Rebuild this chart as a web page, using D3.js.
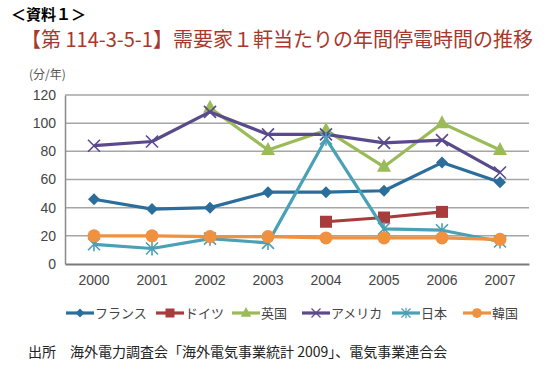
<!DOCTYPE html>
<html>
<head>
<meta charset="utf-8">
<script src="https://cdn.jsdelivr.net/npm/d3@7"></script>
<style>
  body { margin: 0; background: #fff; }
  svg { font-family: "Noto Sans CJK JP", "Noto Sans", sans-serif; }
</style>
</head>
<body>
<div id="chart"></div>
<script>
const years = ["2000", "2001", "2002", "2003", "2004", "2005", "2006", "2007"];
const yTicks = [0, 20, 40, 60, 80, 100, 120];
const france  = [46, 39, 40, 51, 51, 52, 72, 58];
const germany = [null, null, null, null, 30, 33, 37, null];
const uk      = [null, null, 111, 81, 95, 69, 100, 81];
const usa     = [84, 87, 108, 92, 92, 86, 88, 65];
const japan   = [14, 11, 18, 15, 89, 25, 24, 16];
const korea   = [20, 20, 19.5, 19.5, 18.5, 18.5, 18.5, 17.5];
const names = ["フランス", "ドイツ", "英国", "アメリカ", "日本", "韓国"];

const series = [
  { name: names[0], values: france,  color: "#2b6e9b", marker: "diamond" },
  { name: names[1], values: germany, color: "#a83c3c", marker: "square" },
  { name: names[2], values: uk,      color: "#9bbb59", marker: "triangle" },
  { name: names[3], values: usa,     color: "#5a4a8c", marker: "x" },
  { name: names[4], values: japan,   color: "#4aa0b5", marker: "star" },
  { name: names[5], values: korea,   color: "#f0913f", marker: "circle" }
];

const W = 559, H = 371;
const svg = d3.select("#chart").append("svg")
  .attr("width", W).attr("height", H);

// titles
svg.append("text").attr("x", 11).attr("y", 20)
  .style("font-size", "15px").style("font-weight", "bold").style("fill", "#000")
  .text("＜資料１＞");

svg.append("text").attr("x", 21).attr("y", 47)
  .style("font-size", "20px").style("fill", "#a8382c")
  .text("【第 114-3-5-1】需要家１軒当たりの年間停電時間の推移");

svg.append("text").attr("x", 29).attr("y", 79)
  .style("font-size", "12px").style("fill", "#555")
  .text("(分/年)");

const x = d3.scaleBand().domain(years).range([65, 529]);
const y = d3.scaleLinear().domain([0, 120]).range([264, 95]);

// grid
svg.append("g").selectAll("line")
  .data(yTicks.filter(d => d > 0))
  .join("line")
  .attr("x1", 65).attr("x2", 529)
  .attr("y1", d => y(d)).attr("y2", d => y(d))
  .attr("stroke", "#a6a6a6").attr("stroke-width", 1.5);

// y axis
const yAxis = svg.append("g").attr("transform", "translate(65,0)")
  .call(d3.axisLeft(y).tickValues(yTicks).tickSize(0).tickPadding(9));
yAxis.select(".domain").attr("stroke", "#8a8a8a").attr("stroke-width", 1.5);
yAxis.selectAll("text").style("font-size", "14px").style("fill", "#444")
  .style("font-family", "'Liberation Sans', Arial, sans-serif");

// x axis
const xAxis = svg.append("g").attr("transform", "translate(0,264)")
  .call(d3.axisBottom(x).tickSize(0).tickPadding(11));
xAxis.select(".domain").attr("stroke", "#7a7a7a").attr("stroke-width", 2);
xAxis.selectAll("text").style("font-size", "14px").style("fill", "#444")
  .style("font-family", "'Liberation Sans', Arial, sans-serif");

const cx = d => x(d) + x.bandwidth() / 2;

function drawMarker(g, type, color) {
  if (type === "diamond") {
    g.append("path").attr("d", "M0,-6L6,0L0,6L-6,0Z").attr("fill", color);
  } else if (type === "square") {
    g.append("rect").attr("x", -6).attr("y", -6).attr("width", 12).attr("height", 12).attr("fill", color);
  } else if (type === "triangle") {
    g.append("path").attr("d", "M0,-8L7,5L-7,5Z").attr("fill", color);
  } else if (type === "x") {
    g.append("path").attr("d", "M-6,-6L6,6M-6,6L6,-6").attr("stroke", color).attr("stroke-width", 1.6);
  } else if (type === "star") {
    g.append("path").attr("d", "M-6,-6L6,6M-6,6L6,-6M0,-7L0,7").attr("stroke", color).attr("stroke-width", 1.6);
  } else if (type === "circle") {
    g.append("circle").attr("r", 6.5).attr("fill", color);
  }
}

const line = d3.line()
  .defined(d => d.v != null)
  .x(d => cx(d.year))
  .y(d => y(d.v));

series.forEach(s => {
  const pts = years.map((yr, i) => ({ year: yr, v: s.values[i] }));
  svg.append("path")
    .datum(pts)
    .attr("d", line)
    .attr("fill", "none")
    .attr("stroke", s.color)
    .attr("stroke-width", 3.2)
    .attr("stroke-linejoin", "round");
  pts.filter(p => p.v != null).forEach(p => {
    const g = svg.append("g").attr("transform", `translate(${cx(p.year)},${y(p.v)})`);
    drawMarker(g, s.marker, s.color);
  });
});

// legend
const legendX = [66, 156, 232, 302, 392, 463];
series.forEach((s, i) => {
  const g = svg.append("g").attr("transform", `translate(${legendX[i]},313)`);
  g.append("line").attr("x1", 0).attr("x2", 28).attr("y1", 0).attr("y2", 0)
    .attr("stroke", s.color).attr("stroke-width", 3.2);
  const m = g.append("g").attr("transform", "translate(14,0) scale(0.75)");
  drawMarker(m, s.marker, s.color);
  g.append("text").attr("x", 29).attr("y", 5)
    .style("font-size", "13px").style("fill", "#444")
    .text(s.name);
});

svg.append("text").attr("x", 28).attr("y", 357)
  .style("font-size", "14px").style("fill", "#222")
  .text("出所　海外電力調査会「海外電気事業統計 2009」、電気事業連合会");
</script>
</body>
</html>
